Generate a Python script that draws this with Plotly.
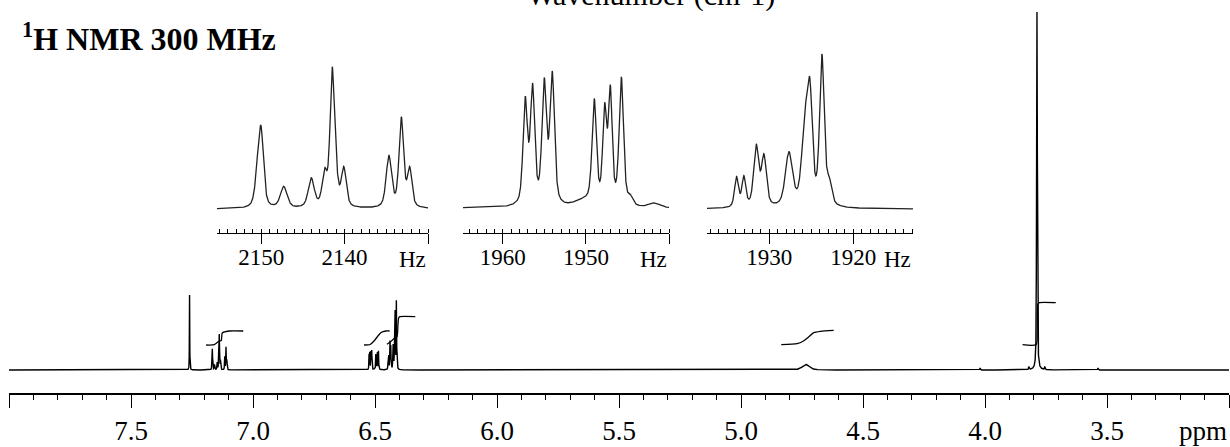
import numpy as np
import plotly.graph_objects as go

# 300 MHz spectrum in CDCl3, peak lists
mhz = 300.0

# expanded multiplets (Hz); heights relative to tallest line of each inset
m1_hz = [2150.4, 2150.0, 2147.3, 2144.0, 2142.4, 2141.5, 2141.1, 2140.1, 2134.7, 2133.2, 2132.2]
m1_h = [0.42, 0.58, 0.16, 0.22, 0.29, 1.0, 0.52, 0.30, 0.38, 0.65, 0.30]
m1_w = [0.75, 0.7, 0.95, 0.85, 0.7, 0.6, 0.6, 0.7, 0.75, 0.65, 0.65]

m2_hz = [1957.31, 1956.43, 1955.02, 1954.06, 1949.0, 1947.75, 1947.07, 1945.74, 1944.66]
m2_h = [0.816, 0.913, 0.952, 1.0, 0.78, 0.768, 0.90, 0.957, 0.10]
m2_w = [0.62, 0.62, 0.65, 0.65, 0.62, 0.55, 0.55, 0.62, 0.7]
m2_bg_hz = [1950.3, 1941.8]
m2_bg_h = [0.04, 0.03]
m2_bg_w = [2.5, 1.5]

m3_hz = [1933.89, 1933.02, 1931.55, 1930.63, 1927.66, 1925.75, 1925.16, 1923.73, 1922.86]
m3_h = [0.21, 0.215, 0.42, 0.356, 0.37, 0.65, 0.843, 1.0, 0.21]
m3_w = [0.55, 0.55, 0.7, 0.7, 1.0, 0.9, 0.7, 0.65, 0.7]

# height of each multiplet in the full spectrum
main_scale = [36, 20, 70]

# other signals in the full spectrum (ppm)
s_ppm = [7.26, 4.734, 4.02, 3.82, 3.787, 3.755, 3.537]
s_h = [75, 5.5, 2, 3, 358, 3, 2]
s_w = [0.0017, 0.035, 0.003, 0.003, 0.0037, 0.003, 0.003]

# integral traces (ppm, height)
int1_x = [7.192, 7.159, 7.139, 7.130, 7.126, 7.098, 7.040]
int1_y = [25, 25.3, 29, 29.5, 37, 39, 39]
int2_x = [6.545, 6.520, 6.504, 6.488, 6.475, 6.455, 6.440]
int2_y = [25, 25.5, 29, 34, 37.5, 39, 39]
int3_x = [6.451, 6.437, 6.421, 6.410, 6.406, 6.403, 6.398, 6.335]
int3_y = [25.7, 28, 31.7, 33, 45, 52, 53.3, 53.3]
int4_x = [4.835, 4.770, 4.744, 4.723, 4.702, 4.674, 4.620]
int4_y = [25.3, 26.3, 29, 33, 37.3, 38.7, 39.7]
int5_x = [3.846, 3.790, 3.786, 3.783, 3.777, 3.710]
int5_y = [25.3, 25.5, 40, 66, 67.3, 67.3]

ppm_ticks = [8.0, 7.5, 7.0, 6.5, 6.0, 5.5, 5.0, 4.5, 4.0, 3.5, 3.0]
ppm_labels = ["", "7.5", "7.0", "6.5", "6.0", "5.5", "5.0", "4.5", "4.0", "3.5", ""]

in1_range = [2155.3, 2130]
in1_ticks = [2150, 2140, 2130]
in1_labels = ["2150", "2140", ""]
in2_range = [1964.8, 1940]
in2_ticks = [1960, 1950, 1940]
in2_labels = ["1960", "1950", ""]
in3_range = [1937.4, 1912.9]
in3_ticks = [1930, 1920]
in3_labels = ["1930", "1920"]


def pv(x, x0, w, eta=0.5):
    d = (x - x0) / (w / 2.0)
    return eta / (1 + d * d) + (1 - eta) * np.exp(-np.log(2) * d * d)


def amps(pos, h, w):
    pos = np.array(pos)
    w = np.array(w)
    M = pv(pos[:, None], pos[None, :], w[None, :])
    return np.clip(np.linalg.solve(M, np.array(h)), 0.01, None)


def lines(x, pos, a, w, eta=0.5):
    y = np.zeros_like(x)
    for p, aa, ww in zip(pos, a, w):
        y += aa * pv(x, p, ww, eta)
    return y


m1_a = amps(m1_hz, m1_h, m1_w)
m2_a = amps(m2_hz, m2_h, m2_w)
m3_a = amps(m3_hz, m3_h, m3_w)

# full spectrum
ppm = np.linspace(8.0, 3.0, 20001)
hz = ppm * mhz
full = (main_scale[0] * lines(hz, m1_hz, m1_a, m1_w)
        + main_scale[1] * (lines(hz, m2_hz, m2_a, m2_w) + lines(hz, m2_bg_hz, m2_bg_h, m2_bg_w, 0.0))
        + main_scale[2] * lines(hz, m3_hz, m3_a, m3_w)
        + lines(ppm, s_ppm, s_h, s_w))

fig = go.Figure()
fig.add_trace(go.Scatter(x=ppm, y=full, mode="lines", line=dict(color="black", width=1.4),
                         xaxis="x", yaxis="y", hoverinfo="skip"))
for ix, iy in [(int1_x, int1_y), (int2_x, int2_y), (int3_x, int3_y), (int4_x, int4_y), (int5_x, int5_y)]:
    fig.add_trace(go.Scatter(x=ix, y=iy, mode="lines", line=dict(color="black", width=1.3, shape="spline", smoothing=0.6),
                             xaxis="x", yaxis="y", hoverinfo="skip"))

# insets
x1 = np.linspace(in1_range[0], in1_range[1], 1500)
x2 = np.linspace(in2_range[0], in2_range[1], 1500)
x3 = np.linspace(in3_range[0], in3_range[1], 1500)
y1 = lines(x1, m1_hz, m1_a, m1_w)
y2 = lines(x2, m2_hz, m2_a, m2_w) + lines(x2, m2_bg_hz, m2_bg_h, m2_bg_w, 0.0)
y3 = lines(x3, m3_hz, m3_a, m3_w)
for k, (xx, yy) in enumerate([(x1, y1), (x2, y2), (x3, y3)], start=2):
    fig.add_trace(go.Scatter(x=xx, y=yy, mode="lines", line=dict(color="#222", width=1.3),
                             xaxis="x%d" % k, yaxis="y%d" % k, hoverinfo="skip"))

serif = "Liberation Serif"
W = 1220.0


def inset_x(lo_px, hi_px, rng, tv, tt):
    return dict(domain=[(lo_px - 9) / W, (hi_px - 9) / W], range=rng, showline=True, linecolor="black",
                linewidth=1.3, ticks="outside", ticklen=10, tickwidth=1.2, tickcolor="black",
                tickmode="array", tickvals=tv, ticktext=tt, ticklabelstandoff=-7,
                tickfont=dict(family=serif, size=23, color="black"),
                minor=dict(ticks="inside", ticklen=3.5, tickwidth=1, tickcolor="black", tickmode="linear", tick0=0, dtick=1),
                showgrid=False, zeroline=False)


def inset_y(base_px, peak_px):
    # axis line at 233 px, top of box at 40 px
    s = base_px - peak_px
    return dict(domain=[(393 - 233) / 393.0, (393 - 40) / 393.0], range=[-(233 - base_px) / s, (base_px - 40) / s],
                visible=False)


fig.update_layout(
    width=1230, height=447, margin=dict(l=9, r=1, t=0, b=54),
    paper_bgcolor="white", plot_bgcolor="rgba(0,0,0,0)", showlegend=False,
    xaxis=dict(range=[8.0, 3.0], domain=[0, 1], showline=True, linecolor="black", linewidth=1.5,
               ticks="outside", ticklen=13, tickwidth=1.3, tickcolor="black",
               tickmode="array", tickvals=ppm_ticks, ticktext=ppm_labels, ticklabelstandoff=0,
               tickfont=dict(family=serif, size=27, color="black"),
               minor=dict(ticks="outside", ticklen=5, tickwidth=1.1, tickcolor="black", tickmode="linear", tick0=0, dtick=0.1),
               showgrid=False, zeroline=False, anchor="y"),
    yaxis=dict(range=[-23, 370], domain=[0, 1], visible=False),
    xaxis2=dict(inset_x(217, 428, in1_range, in1_ticks, in1_labels), anchor="y2"),
    yaxis2=inset_y(209, 67),
    xaxis3=dict(inset_x(463, 669, in2_range, in2_ticks, in2_labels), anchor="y3"),
    yaxis3=inset_y(208, 71),
    xaxis4=dict(inset_x(707, 913, in3_range, in3_ticks, in3_labels), anchor="y4"),
    yaxis4=inset_y(209, 54),
)

ann = [
    dict(text="<b><sup>1</sup>H NMR 300 MHz</b>", xref="paper", yref="paper", x=(20 - 9) / W, y=(393 - 37) / 393.0,
         xanchor="left", yanchor="middle", font=dict(family=serif, size=32, color="black")),
    dict(text="Wavenumber (cm-1)", xref="paper", yref="paper", x=(651 - 9) / W, y=(393 - 14) / 393.0,
         xanchor="center", yanchor="bottom", font=dict(family=serif, size=30, color="black")),
    dict(text="ppm", xref="x", yref="paper", x=3.0, y=(393 - 431) / 393.0, xanchor="right", yanchor="middle",
         font=dict(family=serif, size=27, color="black")),
]
for xr, xe in [("x2", in1_range[1]), ("x3", in2_range[1]), ("x4", in3_range[1])]:
    ann.append(dict(text="Hz", xref=xr, yref="paper", x=xe, y=(393 - 259) / 393.0, xanchor="right", yanchor="middle",
                    font=dict(family=serif, size=23, color="black")))
for a in ann:
    a["showarrow"] = False
fig.update_layout(annotations=ann)

# the page's default body margin would push the figure 8px down and right
fig.write_html("out.html", config={"displayModeBar": False},
               post_script="document.body.style.margin='0';")
